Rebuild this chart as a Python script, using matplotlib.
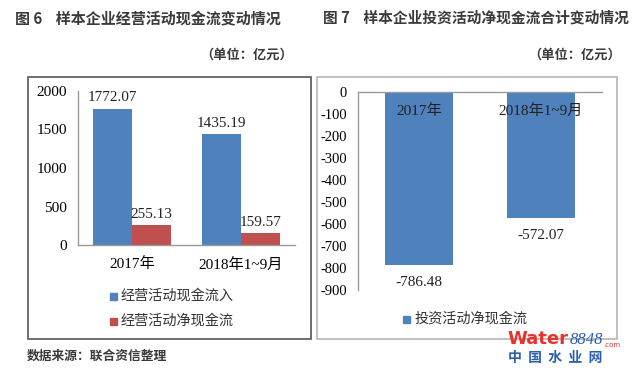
import matplotlib
matplotlib.use("Agg")
import matplotlib.pyplot as plt
from matplotlib.patches import Rectangle
from matplotlib.text import Annotation

categories = ["2017年", "2018年1~9月"]
inflow = [1772.07, 1435.19]
net_operating = [255.13, 159.57]
net_investing = [-786.48, -572.07]
left_yticks = [0, 500, 1000, 1500, 2000]
right_yticks = [0, -100, -200, -300, -400, -500, -600, -700, -800, -900]

BLUE = "#4F81BD"
RED = "#C0504D"
SERIF = ["Liberation Serif", "Noto Sans CJK SC"]
SANS = ["Noto Sans CJK SC", "DejaVu Sans"]

W, H = 636, 375
fig = plt.figure(figsize=(W / 100, H / 100), dpi=100)

def fx(x):
    return x / W

def fy(y):
    return 1 - y / H

# Panel borders
fig.add_artist(Rectangle((fx(28), fy(339)), fx(311) - fx(28), fy(77) - fy(339),
                         transform=fig.transFigure, fill=False, ec="#555555", lw=1.2))
fig.add_artist(Rectangle((fx(317), fy(339)), fx(617) - fx(317), fy(77) - fy(339),
                         transform=fig.transFigure, fill=False, ec="#b5b5b5", lw=1.2))

# Titles
fig.text(fx(15), fy(18), "图 6    样本企业经营活动现金流变动情况", family=SANS, fontsize=10.8,
         fontweight="bold", color="#3a3a3a", va="center", ha="left")
fig.text(fx(323), fy(18), "图 7    样本企业投资活动净现金流合计变动情况", family=SANS, fontsize=10.6,
         fontweight="bold", color="#3a3a3a", va="center", ha="left")
fig.text(fx(293), fy(55), "（单位：亿元）", family=SANS, fontsize=9.5, fontweight="bold",
         color="#3a3a3a", va="center", ha="right")
fig.text(fx(621), fy(55), "（单位：亿元）", family=SANS, fontsize=9.5, fontweight="bold",
         color="#3a3a3a", va="center", ha="right")
fig.text(fx(27), fy(356), "数据来源：联合资信整理", family=SANS, fontsize=9.2, fontweight="bold",
         color="#3a3a3a", va="center", ha="left")

# Left chart
axL = fig.add_axes([fx(78), fy(245), fx(295) - fx(78), fy(91) - fy(245)])
x = list(range(len(categories)))
bw = 0.36
b1 = axL.bar([i - bw / 2 for i in x], inflow, width=bw, color=BLUE)
b2 = axL.bar([i + bw / 2 for i in x], net_operating, width=bw, color=RED)
axL.set_xlim(-0.5, 1.5)
axL.set_ylim(0, 2000)
axL.set_yticks(left_yticks)
axL.set_yticklabels([str(v) for v in left_yticks], family=SERIF, fontsize=11)
axL.set_xticks(x)
axL.set_xticklabels(categories, family=SERIF, fontsize=11)
axL.tick_params(axis="y", length=0, pad=8)
axL.tick_params(axis="x", length=0, pad=9)
for s in ["top", "right"]:
    axL.spines[s].set_visible(False)
for s in ["left", "bottom"]:
    axL.spines[s].set_color("#999999")
    axL.spines[s].set_linewidth(1)
for bars in (b1, b2):
    axL.bar_label(bars, labels=[f"{v:.2f}" for v in bars.datavalues], padding=3,
                  family=SERIF, fontsize=11, color="#222222")
axL.patch.set_alpha(0)

# Left legend
items = [(BLUE, "经营活动现金流入", 296), (RED, "经营活动净现金流", 321)]
for col, lab, yy in items:
    fig.add_artist(Rectangle((fx(110), fy(yy + 3.5)), fx(7), 7 / H, transform=fig.transFigure,
                             color=col))
    fig.text(fx(121), fy(yy), lab, family=SANS, fontsize=10.2, color="#333333",
             va="center", ha="left")

# Right chart
axR = fig.add_axes([fx(358), fy(290), fx(602) - fx(358), fy(92) - fy(290)])
bwR = 0.565
b3 = axR.bar(x, net_investing, width=bwR, color=BLUE)
axR.set_xlim(-0.5, 1.5)
axR.set_ylim(-900, 0)
axR.set_yticks(right_yticks)
axR.set_yticklabels([str(v) for v in right_yticks], family=SERIF, fontsize=10.5)
axR.set_xticks([])
axR.tick_params(length=0, pad=8)
for s in ["bottom", "right"]:
    axR.spines[s].set_visible(False)
for s in ["left", "top"]:
    axR.spines[s].set_color("#999999")
    axR.spines[s].set_linewidth(1)
axR.bar_label(b3, labels=[f"{v:.2f}" for v in net_investing], padding=8,
              family=SERIF, fontsize=11, color="#222222")
for i, c in enumerate(categories):
    axR.text(i, -85, c, family=SERIF, fontsize=11, color="#222222", ha="center", va="center")
axR.patch.set_alpha(0)

fig.add_artist(Rectangle((fx(403), fy(322.5)), fx(7), 7 / H, transform=fig.transFigure,
                         color=BLUE))
fig.text(fx(415), fy(319), "投资活动净现金流", family=SANS, fontsize=10.2, color="#333333",
         va="center", ha="left")

# Watermark
t1 = fig.text(fx(507), fy(344), "Water", fontsize=13, fontweight="bold", color="#e8322d",
              va="baseline", ha="left", family="DejaVu Sans")
t2 = Annotation("8848", xy=(1, 0), xycoords=t1, xytext=(1, 0), textcoords="offset points",
                fontsize=12, style="italic", color="#2a5fb0", va="bottom", ha="left",
                family="Liberation Serif")
fig.add_artist(t2)
t3 = Annotation(".com", xy=(1, 0), xycoords=t2, xytext=(0.5, 0), textcoords="offset points",
                fontsize=5, color="#e8322d", va="bottom", ha="left")
fig.add_artist(t3)
fig.text(fx(508), fy(358), "中  国  水  业  网", family=SANS, fontsize=10, fontweight="bold",
         color="#2a5fb0", va="center", ha="left")

fig.savefig("out.png", dpi=100)
